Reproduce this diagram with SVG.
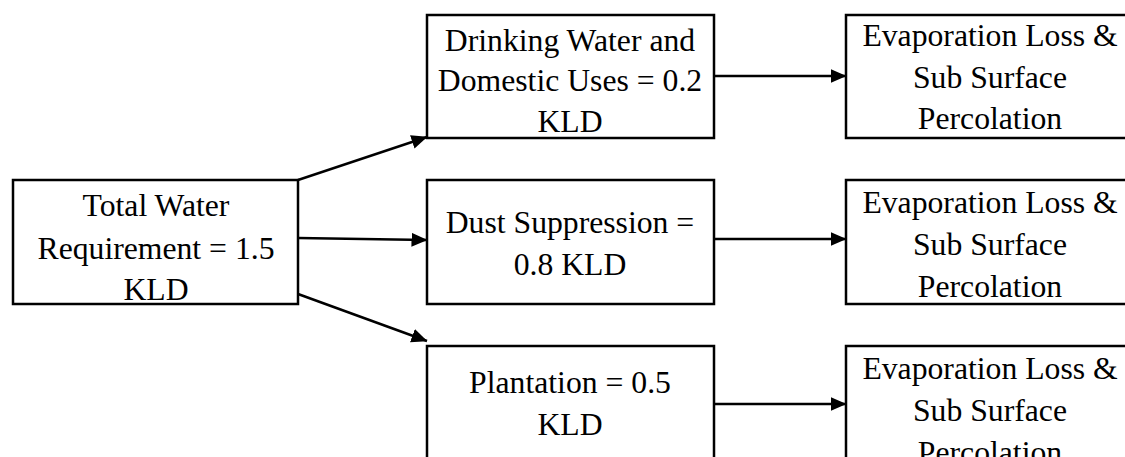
<svg xmlns="http://www.w3.org/2000/svg" width="1125" height="457" viewBox="0 0 1125 457">
<style>
.box{fill:#fff;stroke:#000;stroke-width:2.5}
.t{font-family:"Liberation Serif","Times New Roman",serif;font-size:31.7px;fill:#000;text-anchor:middle}
.c{fill:none;stroke:#000;stroke-width:2.5}
</style>
<defs>
<marker id="ah" markerUnits="userSpaceOnUse" markerWidth="16" markerHeight="16" viewBox="0 0 16 16" refX="15.5" refY="8" orient="auto">
<path d="M0,1 L16,8 L0,15 Z" fill="#000"/>
</marker>
</defs>
<rect width="1125" height="457" fill="#fff"/>
<g id="total">
<rect class="box" x="13" y="180" width="285" height="124"/>
<text class="t" x="156" y="216">Total Water</text>
<text class="t" x="156" y="259">Requirement = 1.5</text>
<text class="t" x="156" y="300">KLD</text>
</g>
<g id="drinking">
<rect class="box" x="427" y="15" width="287" height="123"/>
<text class="t" x="570" y="51">Drinking Water and</text>
<text class="t" x="570" y="91">Domestic Uses = 0.2</text>
<text class="t" x="570" y="132">KLD</text>
</g>
<g id="dust">
<rect class="box" x="427" y="180" width="287" height="124"/>
<text class="t" x="570" y="233">Dust Suppression =</text>
<text class="t" x="570" y="275">0.8 KLD</text>
</g>
<g id="plantation">
<rect class="box" x="427" y="346" width="287" height="130"/>
<text class="t" x="570" y="393">Plantation = 0.5</text>
<text class="t" x="570" y="435">KLD</text>
</g>
<g id="evap1">
<rect class="box" x="846" y="15" width="290" height="123"/>
<text class="t" x="990" y="46">Evaporation Loss &amp;</text>
<text class="t" x="990" y="88">Sub Surface</text>
<text class="t" x="990" y="129">Percolation</text>
</g>
<g id="evap2">
<rect class="box" x="846" y="180" width="290" height="124"/>
<text class="t" x="990" y="213">Evaporation Loss &amp;</text>
<text class="t" x="990" y="255">Sub Surface</text>
<text class="t" x="990" y="297">Percolation</text>
</g>
<g id="evap3">
<rect class="box" x="846" y="346" width="290" height="130"/>
<text class="t" x="990" y="379">Evaporation Loss &amp;</text>
<text class="t" x="990" y="421">Sub Surface</text>
<text class="t" x="990" y="463">Percolation</text>
</g>
<g id="connectors">
<path class="c" d="M298,180 L427,137" marker-end="url(#ah)"/>
<path class="c" d="M298,238 L427,240" marker-end="url(#ah)"/>
<path class="c" d="M298,294 L427,341" marker-end="url(#ah)"/>
<path class="c" d="M714,76 L846,76" marker-end="url(#ah)"/>
<path class="c" d="M714,239 L846,239" marker-end="url(#ah)"/>
<path class="c" d="M714,404 L846,404" marker-end="url(#ah)"/>
</g>
</svg>
